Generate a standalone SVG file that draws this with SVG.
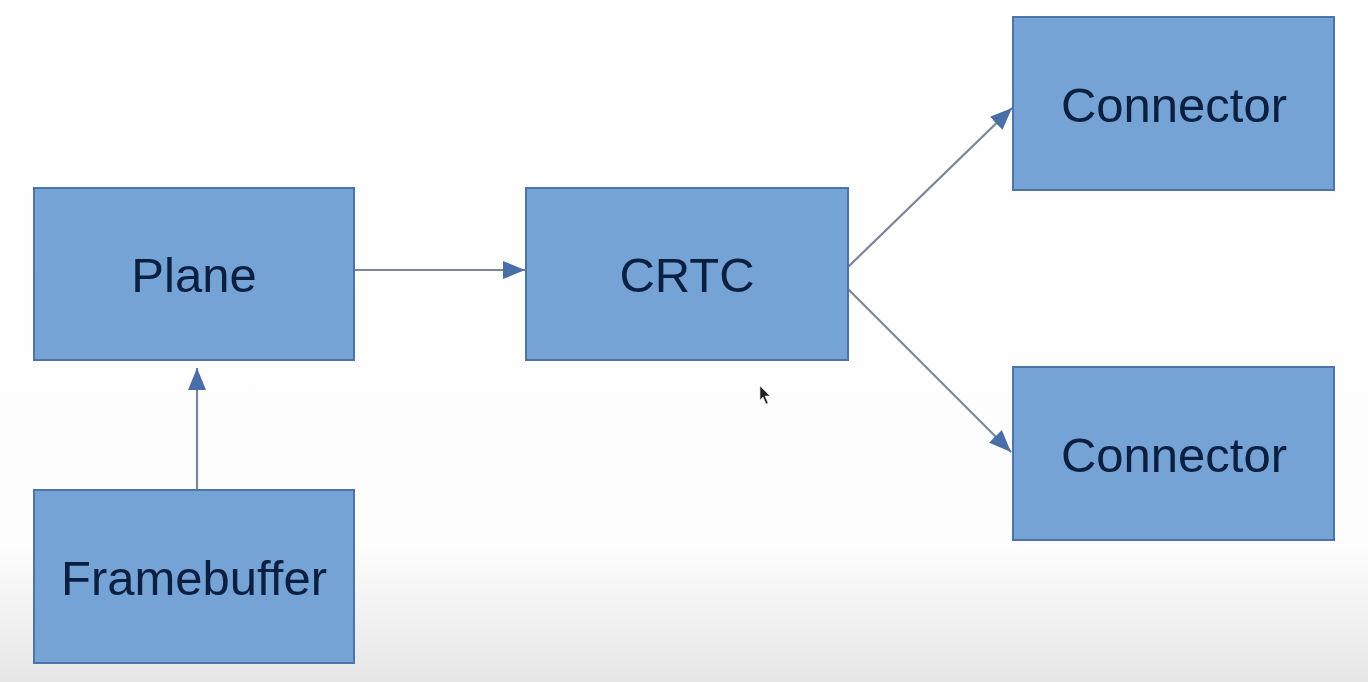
<svg xmlns="http://www.w3.org/2000/svg" width="1368" height="682" viewBox="0 0 1368 682">
  <defs>
    <linearGradient id="bg" x1="0" y1="0" x2="0" y2="1">
      <stop offset="0" stop-color="#ffffff"/>
      <stop offset="0.8" stop-color="#fdfdfd"/>
      <stop offset="1" stop-color="#e6e6e6"/>
    </linearGradient>
    <marker id="arr" markerUnits="userSpaceOnUse" markerWidth="24" markerHeight="18" refX="22" refY="9" orient="auto">
      <path d="M0,0 L22,9 L0,18 Z" fill="#4a6fa8"/>
    </marker>
    <style>
      .box { fill: #75a3d5; stroke: #4d74a8; stroke-width: 2; }
      .lbl { font-family: "Liberation Sans", Arial, sans-serif; font-size: 49px; fill: #0b1f40; text-anchor: middle; }
      .edge { stroke: #7c8595; stroke-width: 2.2; fill: none; marker-end: url(#arr); }
    </style>
  </defs>
  <rect width="1368" height="682" fill="url(#bg)"/>

  <g id="connectors">
    <line class="edge" x1="354" y1="270" x2="525" y2="270"/>
    <line class="edge" x1="197" y1="490" x2="197" y2="368"/>
    <line class="edge" x1="848" y1="267" x2="1012" y2="108"/>
    <line class="edge" x1="848" y1="289" x2="1011" y2="452"/>
  </g>

  <g id="plane">
    <rect class="box" x="34" y="188" width="320" height="172"/>
    <text class="lbl" x="194" y="292">Plane</text>
  </g>
  <g id="crtc">
    <rect class="box" x="526" y="188" width="322" height="172"/>
    <text class="lbl" x="687" y="292">CRTC</text>
  </g>
  <g id="connector1">
    <rect class="box" x="1013" y="17" width="321" height="173"/>
    <text class="lbl" x="1174" y="122">Connector</text>
  </g>
  <g id="connector2">
    <rect class="box" x="1013" y="367" width="321" height="173"/>
    <text class="lbl" x="1174" y="472">Connector</text>
  </g>
  <g id="framebuffer">
    <rect class="box" x="34" y="490" width="320" height="173"/>
    <text class="lbl" x="194" y="595">Framebuffer</text>
  </g>

  <path d="M760,386 L760,400 L763,397 L766,404 L768,403 L765,396 L770,396 Z" fill="#222" stroke="#ddd" stroke-width="0.6"/>
</svg>
